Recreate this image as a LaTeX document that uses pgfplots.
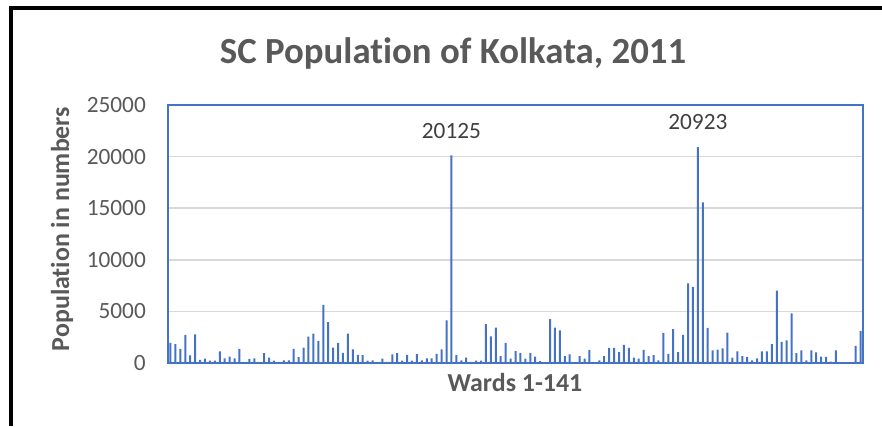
\documentclass[border=0pt]{standalone}
\usepackage{pgfplots}
\pgfplotsset{compat=1.18}
\usepackage{fontspec}
\setmainfont[Ligatures={NoCommon}]{Carlito}
\definecolor{barblue}{HTML}{4472C4}
\definecolor{txtgray}{HTML}{595959}
\definecolor{lblgray}{HTML}{404040}
\definecolor{gridgray}{HTML}{D9D9D9}
\begin{document}
\begin{tikzpicture}
\path[use as bounding box] (0,0) rectangle (882pt,426pt);
\draw[black, line width=3.5pt] (11pt,0pt) -- (11pt,418pt) -- (882pt,418pt);
\begin{axis}[
  at={(168pt,63pt)}, anchor=south west,
  scale only axis, width=695pt, height=258pt,
  xmin=0.5, xmax=141.5, ymin=0, ymax=25000,
  ytick={0,5000,10000,15000,20000,25000},
  xtick=\empty,
  ymajorgrids, major grid style={draw=gridgray, line width=1.5pt},
  axis line style={draw=barblue, line width=1.6pt},
  major tick length=0pt,
  /pgf/number format/assume math mode=true,
  /pgf/number format/1000 sep={},
  yticklabel style={font=\fontsize{23.3}{28}\selectfont, text=txtgray, anchor=east, inner sep=0pt, xshift=-22pt},
  scaled y ticks=false,
  clip=false,
]
\addplot[ybar, bar width=2pt, fill=barblue, draw=none] coordinates {
(1,1950) (2,1820) (3,1360) (4,2720) (5,730) (6,2780) (7,300) (8,430) (9,230) (10,230)
(11,1130) (12,460) (13,630) (14,460) (15,1360) (16,70) (17,400) (18,460) (19,60) (20,960)
(21,530) (22,230) (23,100) (24,260) (25,260) (26,1360) (27,560) (28,1490) (29,2550) (30,2850)
(31,2120) (32,5630) (33,3970) (34,1490) (35,1950) (36,990) (37,2850) (38,1320) (39,790) (40,760)
(41,230) (42,260) (43,50) (44,430) (45,100) (46,830) (47,960) (48,230) (49,790) (50,230)
(51,860) (52,260) (53,460) (54,460) (55,890) (56,1320) (57,4140) (58,20125) (59,760) (60,260)
(61,530) (62,100) (63,230) (64,230) (65,3770) (66,2580) (67,3440) (68,660) (69,1950) (70,430)
(71,1160) (72,990) (73,430) (74,990) (75,630) (76,170) (77,30) (78,4240) (79,3440) (80,3150)
(81,660) (82,830) (83,40) (84,660) (85,430) (86,1260) (87,20) (88,260) (89,660) (90,1460)
(91,1460) (92,1060) (93,1750) (94,1460) (95,530) (96,430) (97,1260) (98,660) (99,760) (100,260)
(101,2910) (102,890) (103,3280) (104,1060) (105,2720) (106,7720) (107,7350) (108,20923) (109,15570) (110,3410)
(111,1230) (112,1290) (113,1420) (114,2950) (115,530) (116,1130) (117,660) (118,600) (119,260) (120,460)
(121,1130) (122,1130) (123,1820) (124,7010) (125,2050) (126,2190) (127,4800) (128,960) (129,1230) (130,260)
(131,1230) (132,1030) (133,630) (134,600) (135,130) (136,1230) (137,20) (138,10) (139,10) (140,1660)
(141,3080)
};
\node[text=lblgray, font=\fontsize{23.3}{28}\selectfont, anchor=center] at (axis cs:58,20125) [yshift=24pt] {20125};
\node[text=lblgray, font=\fontsize{23.3}{28}\selectfont, anchor=center] at (axis cs:108,20923) [yshift=25pt] {20923};
\end{axis}
\node[text=txtgray, font=\fontsize{36.8}{42}\bfseries, anchor=center] at (453pt,373pt) {SC Population of Kolkata, 2011};
\node[text=txtgray, font=\fontsize{25.9}{31}\bfseries, anchor=center, rotate=90] at (62pt,197pt) {Population in numbers};
\node[text=txtgray, font=\fontsize{25.9}{31}\bfseries, anchor=center] at (515pt,43pt) {Wards 1-141};
\end{tikzpicture}
\end{document}
